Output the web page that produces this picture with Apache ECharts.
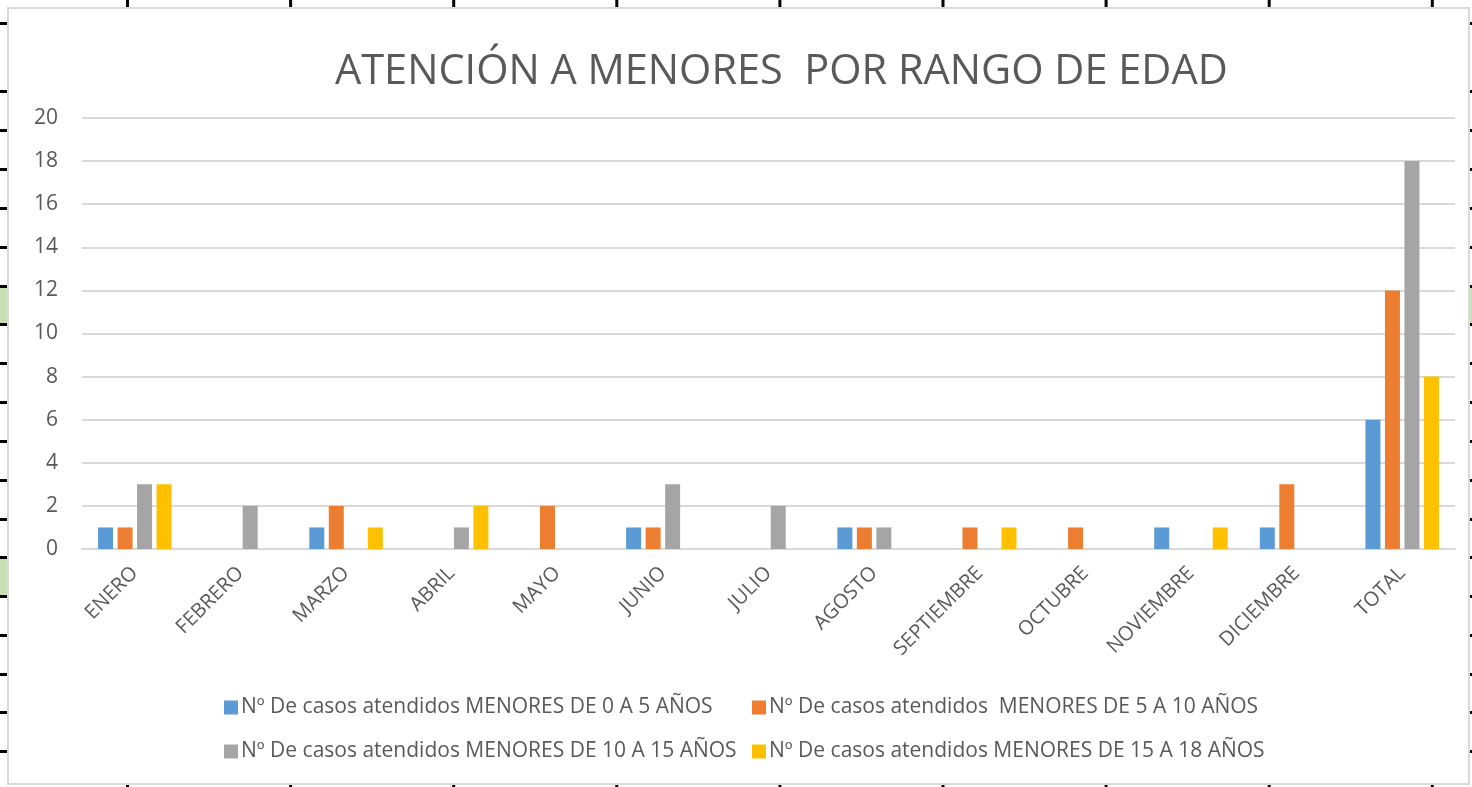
<!DOCTYPE html>
<html>
<head>
<meta charset="utf-8">
<script src="https://cdn.jsdelivr.net/npm/echarts@6/dist/echarts.min.js"></script>
<style>
html,body{margin:0;padding:0;background:#fff;}
#chart{width:1472px;height:787px;}
</style>
</head>
<body>
<div id="chart"></div>
<script>
const categories = ['ENERO','FEBRERO','MARZO','ABRIL','MAYO','JUNIO','JULIO','AGOSTO','SEPTIEMBRE','OCTUBRE','NOVIEMBRE','DICIEMBRE','TOTAL'];
const seriesNames = [
  'Nº De casos atendidos MENORES DE 0 A 5 AÑOS',
  'Nº De casos atendidos  MENORES DE 5 A 10 AÑOS',
  'Nº De casos atendidos MENORES DE 10 A 15 AÑOS',
  'Nº De casos atendidos MENORES DE 15 A 18 AÑOS'
];
const menores0a5   = [1,0,1,0,0,1,0,1,0,0,1,1,6];
const menores5a10  = [1,0,2,0,2,1,0,1,1,1,0,3,12];
const menores10a15 = [3,2,0,1,0,3,2,1,0,0,0,0,18];
const menores15a18 = [3,0,1,2,0,0,0,0,1,0,1,0,8];
const colors = ['#5B9BD5','#ED7D31','#A5A5A5','#FFC000'];
const titleText = 'ATENCIÓN A MENORES  POR RANGO DE EDAD';

const FONT = '"Open Sans", sans-serif';
const TXT = '#595959';
const values = [menores0a5, menores5a10, menores10a15, menores15a18];

// spreadsheet backdrop marks
const g = [];
const leftYs = [23,91,130,169,208,247,286,324,363,402,441,480,519,557,596,635,674,712,751];
g.push({type:'rect', shape:{x:0,y:287,width:8,height:36}, style:{fill:'#C6E0B4'}, z:-1});
g.push({type:'rect', shape:{x:0,y:559,width:8,height:37}, style:{fill:'#C6E0B4'}, z:-1});
g.push({type:'rect', shape:{x:1470,y:287,width:2,height:36}, style:{fill:'#C6E0B4'}, z:-1});
leftYs.forEach(y=>{
  g.push({type:'rect', shape:{x:0,y:y-1,width:7,height:3}, style:{fill:'#000'}, z:-1});
  g.push({type:'rect', shape:{x:1470,y:y-1,width:2,height:3}, style:{fill:'#000'}, z:-1});
});
for (let i=0;i<9;i++){
  const x = 127 + i*163.1;
  g.push({type:'rect', shape:{x:x-1,y:0,width:3,height:7}, style:{fill:'#000'}, z:-1});
  g.push({type:'rect', shape:{x:x-1,y:785,width:3,height:2}, style:{fill:'#000'}, z:-1});
}
g.push({type:'rect', shape:{x:8,y:8,width:1461,height:776}, style:{fill:'#fff',stroke:'#D9D9D9',lineWidth:2}, z:0});

const legendLefts = [[219,692],[747,692],[219,736],[747,736]];
const legends = seriesNames.map((n,i)=>({
  data:[n], left:legendLefts[i][0], top:legendLefts[i][1],
  itemWidth:14, itemHeight:14, itemGap:3, icon:'rect',
  textStyle:{color:TXT, fontSize:21, fontFamily:FONT, padding:[0,0,0,-2]}
}));

const chart = echarts.init(document.getElementById('chart'), null, {renderer:'canvas'});
chart.setOption({
  backgroundColor:'#fff',
  animation:false,
  graphic:g,
  title:{text:titleText, left:330, top:46,
    textStyle:{fontFamily:FONT, fontSize:41.5, fontWeight:'normal', color:TXT}},
  legend:legends,
  grid:{left:82, right:17, top:118, bottom:238, containLabel:false},
  xAxis:{type:'category', data:categories,
    axisLine:{lineStyle:{color:'#D9D9D9', width:2}},
    axisTick:{show:false},
    axisLabel:{rotate:45, color:TXT, fontSize:20, fontFamily:FONT, margin:21, interval:0}},
  yAxis:{type:'value', min:0, max:20, interval:2,
    axisLine:{show:false}, axisTick:{show:false},
    splitLine:{lineStyle:{color:'#D9D9D9', width:2}},
    axisLabel:{color:TXT, fontSize:21, fontFamily:FONT, margin:24}},
  series: values.map((v,i)=>({
    name:seriesNames[i], type:'bar', data:v, barWidth:15, barGap:'30%',
    itemStyle:{color:colors[i], borderWidth:0}
  }))
});
</script>
</body>
</html>
